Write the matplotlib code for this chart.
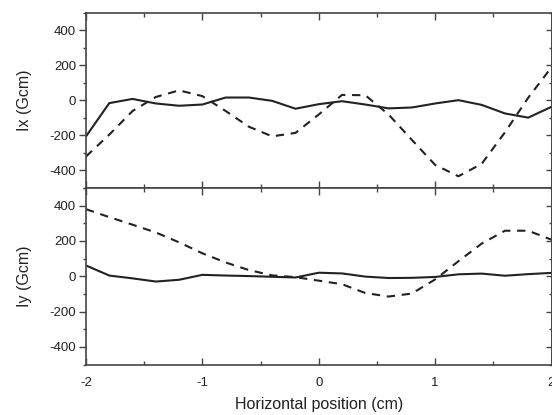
import numpy as np
import matplotlib
matplotlib.use("Agg")
import matplotlib.pyplot as plt
from matplotlib.ticker import MultipleLocator

# horizontal position (cm), sampled every 0.2 cm
x = np.round(np.arange(-2.0, 2.01, 0.2), 1)

# Ix (Gcm)
ix_solid = [-205, -15, 9, -17, -30, -23, 17, 17, -2, -47, -21,
            -4, -23, -45, -40, -17, 2, -25, -74, -98, -36]
ix_dash = [-320, -195, -60, 20, 58, 25, -60, -150, -205, -185, -80,
           32, 30, -80, -225, -368, -433, -362, -182, 16, 190]

# Iy (Gcm)
iy_solid = [61, 4, -12, -30, -20, 8, 4, 1, -3, -7, 20,
            16, -2, -10, -9, -4, 11, 15, 3, 12, 19]
iy_dash = [380, 335, 292, 248, 192, 130, 78, 35, 5, -5, -25,
           -45, -95, -115, -98, -18, 85, 185, 258, 258, 207]

xticks = [-2, -1, 0, 1, 2]
xticklabels = ["-2", "-1", "0", "1", "2"]
yticks = [-400, -200, 0, 200, 400]

plt.rcParams["font.family"] = ["Liberation Sans", "DejaVu Sans"]
plt.rcParams["axes.unicode_minus"] = False
ink = "#222222"

fig = plt.figure(figsize=(5.52, 4.15), dpi=100)
L, W = 86 / 552, 465.5 / 552
ax1 = fig.add_axes([L, 1 - 188 / 415, W, 175 / 415])
ax2 = fig.add_axes([L, 1 - 364.5 / 415, W, 176.5 / 415])

panels = [(ax1, ix_solid, ix_dash, "Ix (Gcm)"),
          (ax2, iy_solid, iy_dash, "Iy (Gcm)")]

for ax, ys, yd, lab in panels:
    ax.plot(x, ys, color=ink, lw=1.5, solid_joinstyle="miter")
    ax.plot(x, yd, color=ink, lw=1.5, dashes=(4, 3.2))
    ax.set_xlim(-2, 2)
    ax.set_ylim(-500, 500)
    ax.set_xticks(xticks)
    ax.set_xticklabels(xticklabels)
    ax.xaxis.set_minor_locator(MultipleLocator(0.5))
    ax.set_yticks(yticks)
    ax.yaxis.set_minor_locator(MultipleLocator(100))
    ax.tick_params(axis="x", which="both", direction="in", top=True, bottom=True,
                   color="#444444", labelsize=9.5, labelcolor=ink, pad=9)
    ax.tick_params(axis="x", which="major", length=5, width=1)
    ax.tick_params(axis="x", which="minor", length=2.6, width=1)
    ax.tick_params(axis="y", which="both", direction="out", left=True, right=False,
                   color="#444444", labelsize=9.5, labelcolor=ink, pad=2)
    ax.tick_params(axis="y", which="major", length=5, width=1)
    ax.tick_params(axis="y", which="minor", length=2.5, width=1)
    for s in ax.spines.values():
        s.set_color("#444444")
        s.set_linewidth(1.2)
    ax.set_ylabel(lab, fontsize=11.5, color=ink, labelpad=13)

    # right-hand ticks point inward
    sec = ax.secondary_yaxis("right")
    sec.set_yticks(yticks)
    sec.yaxis.set_minor_locator(MultipleLocator(100))
    sec.tick_params(axis="y", which="both", direction="in", labelright=False,
                    color="#444444")
    sec.tick_params(axis="y", which="major", length=4.5, width=1)
    sec.tick_params(axis="y", which="minor", length=2.2, width=1)
    sec.spines["right"].set_color("#444444")
    sec.spines["right"].set_linewidth(1.2)

ax1.tick_params(axis="x", labelbottom=False)
ax2.set_xlabel("Horizontal position (cm)", fontsize=11.5, color=ink, labelpad=6)

fig.savefig("out.png", dpi=100)
